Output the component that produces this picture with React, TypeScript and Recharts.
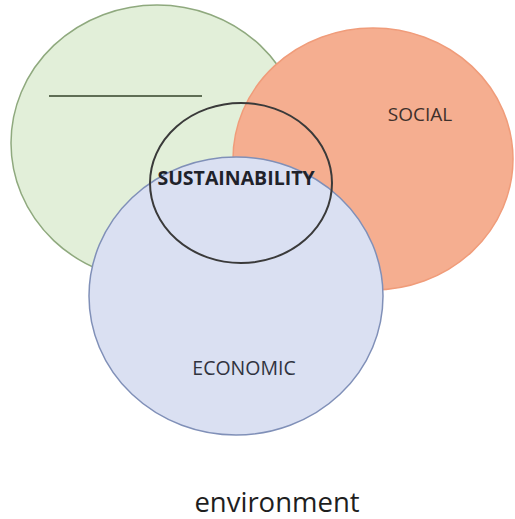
import React from 'react';
import { ScatterChart, Scatter, XAxis, YAxis } from 'recharts';

const WIDTH = 515;
const HEIGHT = 519;

// Venn sets (data units map to the chart's x/y domain)
const circleNames = ['environment', 'social', 'economic', 'sustainability'];
const circleCx = [157, 373, 236, 241];
const circleCy = [143, 159, 296, 183];
const circleRx = [146, 140, 147, 91];
const circleRy = [138, 131, 139, 80];

// Text labels
const labelTexts = ['SOCIAL', 'SUSTAINABILITY', 'ECONOMIC', 'environment'];
const labelX = [420, 236, 244, 277];
const labelY = [121, 185, 375, 512];

// Blank line (placeholder for the missing label)
const blankLineX = [49, 202];
const blankLineY = [96, 96];

const X_DOMAIN: [number, number] = [0, 515];
const Y_DOMAIN: [number, number] = [0, 519];

const circleStyles: Record<string, { fill: string; stroke: string; strokeWidth: number }> = {
  environment: { fill: '#e2efd9', stroke: '#8fa97e', strokeWidth: 1.5 },
  social: { fill: '#f5ae90', stroke: '#f09c7a', strokeWidth: 1.5 },
  economic: { fill: '#dae0f2', stroke: '#8090b8', strokeWidth: 1.5 },
  sustainability: { fill: 'none', stroke: '#3a3a3a', strokeWidth: 2 },
};

const labelStyles: Record<string, { size: number; weight: number; color: string }> = {
  SOCIAL: { size: 19, weight: 400, color: '#3e302b' },
  SUSTAINABILITY: { size: 19.5, weight: 700, color: '#1f222a' },
  ECONOMIC: { size: 19.5, weight: 400, color: '#30333e' },
  environment: { size: 27.5, weight: 400, color: '#1e1e1e' },
};

const circleData = circleNames.map((name, i) => ({
  name,
  x: circleCx[i],
  y: circleCy[i],
  rx: circleRx[i],
  ry: circleRy[i],
}));

const labelData = labelTexts.map((text, i) => ({ text, x: labelX[i], y: labelY[i] }));
const lineData = blankLineX.map((x, i) => ({ x, y: blankLineY[i] }));

const sx = WIDTH / (X_DOMAIN[1] - X_DOMAIN[0]);
const sy = HEIGHT / (Y_DOMAIN[1] - Y_DOMAIN[0]);

const EllipseShape = (props: any) => {
  const { cx, cy, payload } = props;
  const st = circleStyles[payload.name];
  return (
    <ellipse
      cx={cx}
      cy={cy}
      rx={payload.rx * sx}
      ry={payload.ry * sy}
      fill={st.fill}
      stroke={st.stroke}
      strokeWidth={st.strokeWidth}
    />
  );
};

const TextShape = (props: any) => {
  const { cx, cy, payload } = props;
  const st = labelStyles[payload.text];
  return (
    <text
      x={cx}
      y={cy}
      textAnchor="middle"
      fontFamily="'Open Sans', sans-serif"
      fontSize={st.size}
      fontWeight={st.weight}
      fill={st.color}
    >
      {payload.text}
    </text>
  );
};

const NoShape = () => <g />;

export default function App() {
  return (
    <div style={{ position: 'absolute', left: 0, top: 0, background: '#ffffff' }}>
      <ScatterChart width={WIDTH} height={HEIGHT} margin={{ top: 0, right: 0, bottom: 0, left: 0 }}>
        <XAxis type="number" dataKey="x" domain={X_DOMAIN} hide allowDataOverflow />
        <YAxis type="number" dataKey="y" domain={Y_DOMAIN} reversed hide allowDataOverflow />
        {circleData.map((d) => (
          <Scatter key={d.name} data={[d]} shape={EllipseShape} isAnimationActive={false} />
        ))}
        <Scatter
          data={lineData}
          shape={NoShape}
          line={{ stroke: '#5f6e55', strokeWidth: 2 }}
          isAnimationActive={false}
        />
        <Scatter data={labelData} shape={TextShape} isAnimationActive={false} />
      </ScatterChart>
    </div>
  );
}
